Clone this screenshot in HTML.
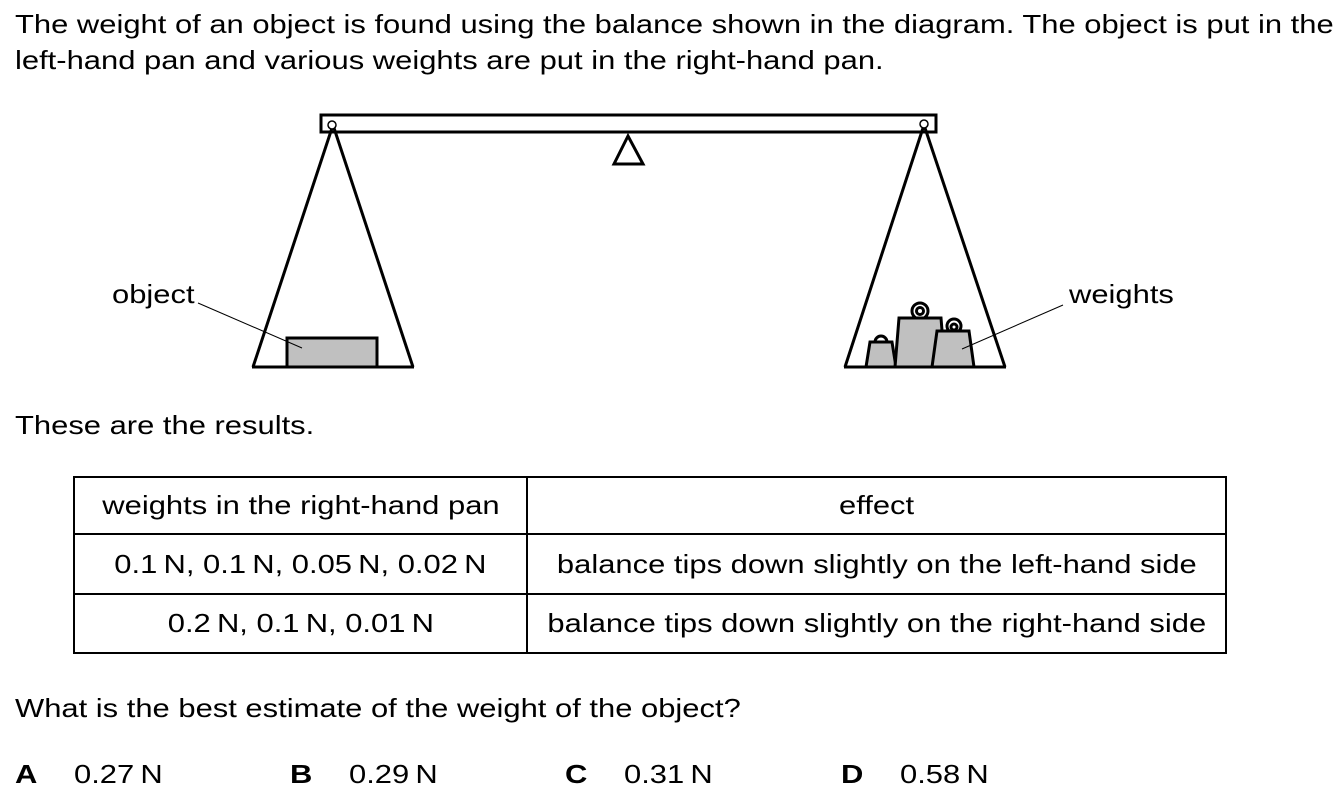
<!DOCTYPE html>
<html><head><style>
body{margin:0;width:1342px;height:797px;background:#fff;font-family:"Liberation Sans",Arial,sans-serif;color:#000;position:relative;overflow:hidden}
.t{position:absolute;font-size:26px;white-space:nowrap;line-height:1;transform:scaleX(1.19);transform-origin:0 0}
table{position:absolute;left:73px;top:476px;border-collapse:collapse;font-size:26px}
td{border:2px solid #000;text-align:center;padding:0}
td span{display:inline-block;transform:scaleX(1.19);white-space:nowrap}
</style></head><body>
<div class="t" style="left:15px;top:11px">The weight of an object is found using the balance shown in the diagram. The object is put in the</div>
<div class="t" style="left:15px;top:47px">left-hand pan and various weights are put in the right-hand pan.</div>
<svg style="position:absolute;left:0;top:0" width="1342" height="400">
<g stroke="#000" stroke-width="3" fill="none">
<rect x="321" y="115" width="615" height="17"/>
<polygon points="628,136 614,164 643,164"/>
<line x1="332" y1="128" x2="253" y2="367"/><line x1="334" y1="128" x2="413" y2="367"/>
<line x1="252" y1="367" x2="414" y2="367"/>
<line x1="923" y1="128" x2="845" y2="367"/><line x1="925" y1="128" x2="1005" y2="367"/>
<line x1="844" y1="367" x2="1006" y2="367"/>
</g>
<circle cx="332" cy="125" r="4" fill="#fff" stroke="#000" stroke-width="1.5"/>
<circle cx="924" cy="124" r="4" fill="#fff" stroke="#000" stroke-width="1.5"/>
<rect x="287" y="338" width="90" height="29" fill="#c0c0c0" stroke="#000" stroke-width="3"/>
<g fill="#c0c0c0" stroke="#000" stroke-width="3">
<path d="M875,342 a6,6 0 0 1 12,0" fill="none"/>
<polygon points="870,342 892,342 896,367 866,367"/>
<circle cx="920" cy="311" r="8" fill="none"/><circle cx="920" cy="311" r="3.5" fill="none"/>
<polygon points="899,318 941,318 945,367 895,367"/>
<circle cx="954" cy="326" r="7" fill="none"/><circle cx="954" cy="327" r="3" fill="none"/>
<polygon points="937,331 969,331 974,367 932,367"/>
</g>
<line x1="198" y1="303" x2="302" y2="348" stroke="#000" stroke-width="1"/>
<line x1="1063" y1="305" x2="962" y2="349" stroke="#000" stroke-width="1"/>
</svg>
<div class="t" style="left:112px;top:281px">object</div>
<div class="t" style="left:1069px;top:281px">weights</div>
<div class="t" style="left:15px;top:412px">These are the results.</div>
<table>
<tr style="height:57px"><td style="width:451px"><span>weights in the right-hand pan</span></td><td style="width:697px"><span>effect</span></td></tr>
<tr style="height:60px"><td><span>0.1&#8201;N, 0.1&#8201;N, 0.05&#8201;N, 0.02&#8201;N</span></td><td><span>balance tips down slightly on the left-hand side</span></td></tr>
<tr style="height:59px"><td><span>0.2&#8201;N, 0.1&#8201;N, 0.01&#8201;N</span></td><td><span>balance tips down slightly on the right-hand side</span></td></tr>
</table>
<div class="t" style="left:15px;top:695px">What is the best estimate of the weight of the object?</div>
<div class="t" style="left:15px;top:761px;font-weight:bold">A</div><div class="t" style="left:74px;top:761px">0.27&#8201;N</div>
<div class="t" style="left:290px;top:761px;font-weight:bold">B</div><div class="t" style="left:349px;top:761px">0.29&#8201;N</div>
<div class="t" style="left:565px;top:761px;font-weight:bold">C</div><div class="t" style="left:624px;top:761px">0.31&#8201;N</div>
<div class="t" style="left:841px;top:761px;font-weight:bold">D</div><div class="t" style="left:900px;top:761px">0.58&#8201;N</div>
</body></html>
